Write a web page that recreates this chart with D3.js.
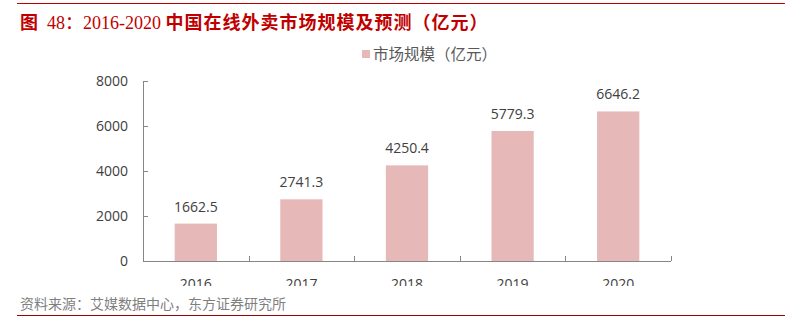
<!DOCTYPE html>
<html>
<head>
<meta charset="utf-8">
<script src="https://cdn.jsdelivr.net/npm/d3@7"></script>
<style>
  body { margin: 0; background: #fff; }
  svg text { font-family: "Open Sans", "Noto Sans CJK SC", sans-serif; }
</style>
</head>
<body>
<div id="chart"></div>
<script>
// data
const years = ["2016", "2017", "2018", "2019", "2020"];
const marketSize = [1662.5, 2741.3, 4250.4, 5779.3, 6646.2];
const yTicks = [0, 2000, 4000, 6000, 8000];

const W = 802, H = 318;
const margin = {top: 81, left: 143, right: 131, bottom: 57};

const svg = d3.select("#chart").append("svg")
    .attr("width", W)
    .attr("height", H);

// header / footer lines
svg.append("line").attr("x1", 17).attr("x2", 785).attr("y1", 3.5).attr("y2", 3.5)
    .attr("stroke", "#c00000").attr("stroke-width", 1);
svg.append("line").attr("x1", 17).attr("x2", 785).attr("y1", 315.5).attr("y2", 315.5)
    .attr("stroke", "#a00000").attr("stroke-width", 1);

// title
let title = svg.append("text")
    .attr("x", 20).attr("y", 29)
    .attr("fill", "#c00000")
    .style("font-size", "18px");
title.append("tspan").text("图").style("font-family", "'Noto Sans CJK SC'").style("font-weight", "bold");
title.append("tspan").attr("dx", 9).text("48").style("font-family", "'Liberation Serif', serif");
title.append("tspan").text("：").style("font-family", "'Noto Sans CJK SC'");
title.append("tspan").text("2016-2020 ").style("font-family", "'Liberation Serif', serif");
title.append("tspan").text("中国在线外卖市场规模及预测（亿元）")
    .style("font-family", "'Noto Sans CJK SC'").style("font-weight", "bold")
    .style("letter-spacing", "1px");

// scales
const x = d3.scaleBand()
    .domain(years)
    .range([margin.left, W - margin.right])
    .paddingInner(0.6)
    .paddingOuter(0.3);

const y = d3.scaleLinear()
    .domain([0, 8000])
    .range([H - margin.bottom, margin.top]);

// bars
svg.append("g").selectAll("rect")
    .data(marketSize)
    .enter()
    .append("rect")
    .attr("x", (d, i) => x(years[i]))
    .attr("y", d => y(d))
    .attr("width", x.bandwidth())
    .attr("height", d => y(0) - y(d))
    .attr("fill", "#e6b8b7");

// value labels
svg.append("g").selectAll("text")
    .data(marketSize)
    .enter()
    .append("text")
    .attr("x", (d, i) => x(years[i]) + x.bandwidth() / 2)
    .attr("y", d => y(d) - 12)
    .attr("text-anchor", "middle")
    .attr("fill", "#404040")
    .style("font-size", "14px")
    .text(d => d.toFixed(1));

// y axis
const yAxis = svg.append("g")
    .attr("transform", `translate(${margin.left},0)`)
    .call(d3.axisLeft(y).tickValues(yTicks).tickFormat(d3.format("d"))
        .tickSize(-5).tickPadding(15).tickSizeOuter(0));
yAxis.select(".domain").attr("stroke", "#868686");
yAxis.selectAll(".tick line").attr("stroke", "#868686");
yAxis.selectAll(".tick text").attr("fill", "#404040").style("font-size", "14px")
    .style("font-family", "'Open Sans', sans-serif");

// x axis, labels clipped at bottom like the source
svg.append("clipPath").attr("id", "xclip")
    .append("rect").attr("x", 0).attr("y", 0).attr("width", W).attr("height", 286);

const step = x.step();
const xBottom = y(0);
const xg = svg.append("g");
xg.append("line")
    .attr("x1", margin.left).attr("x2", W - margin.right)
    .attr("y1", xBottom + 0.5).attr("y2", xBottom + 0.5)
    .attr("stroke", "#868686");
d3.range(years.length + 1).forEach(i => {
    let px = Math.round(margin.left + i * step) + 0.5;
    xg.append("line")
        .attr("x1", px).attr("x2", px)
        .attr("y1", xBottom - 5).attr("y2", xBottom)
        .attr("stroke", "#868686");
});
xg.append("g").attr("clip-path", "url(#xclip)")
    .selectAll("text")
    .data(years)
    .enter()
    .append("text")
    .attr("x", d => x(d) + x.bandwidth() / 2)
    .attr("y", 289)
    .attr("text-anchor", "middle")
    .attr("fill", "#404040")
    .style("font-size", "14px")
    .text(d => d);

// legend
svg.append("rect").attr("x", 362).attr("y", 50).attr("width", 8).attr("height", 8).attr("fill", "#e6b8b7");
svg.append("text").attr("x", 373).attr("y", 60)
    .attr("fill", "#595959")
    .style("font-size", "15.5px")
    .style("font-family", "'Noto Sans CJK SC'")
    .text("市场规模（亿元）");

// source
svg.append("text").attr("x", 20).attr("y", 309)
    .attr("fill", "#7f7f7f")
    .style("font-size", "14px")
    .style("font-family", "'Noto Sans CJK SC'")
    .text("资料来源：艾媒数据中心，东方证券研究所");
</script>
</body>
</html>
